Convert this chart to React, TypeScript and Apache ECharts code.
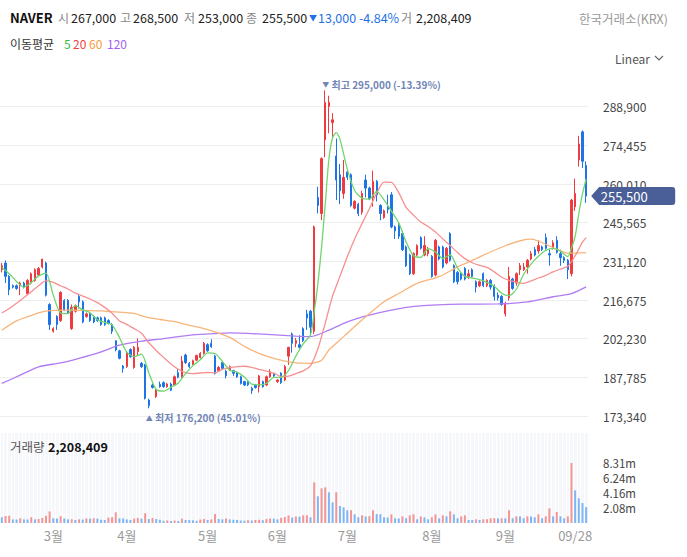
import React, { useEffect, useRef } from 'react';
import * as echarts from 'echarts';

const FONT = "'Noto Sans CJK KR', 'Noto Sans', sans-serif";

// trading days (month, days)
const tradingDays: [number, number[]][] = [
  [2, [11, 12, 13, 14, 17, 18, 19, 20, 21, 24, 25, 26, 27, 28]],
  [3, [4, 5, 6, 7, 10, 11, 12, 13, 14, 17, 18, 19, 20, 21, 24, 25, 26, 27, 28, 31]],
  [4, [1, 2, 3, 4, 7, 8, 9, 10, 11, 14, 15, 16, 17, 18, 21, 22, 23, 24, 25, 28, 29, 30]],
  [5, [2, 7, 8, 9, 12, 13, 14, 15, 16, 19, 20, 21, 22, 23, 26, 27, 28, 29, 30]],
  [6, [2, 4, 5, 9, 10, 11, 12, 13, 16, 17, 18, 19, 20, 23, 24, 25, 26, 27, 30]],
  [7, [1, 2, 3, 4, 7, 8, 9, 10, 11, 14, 15, 16, 17, 18, 21, 22, 23, 24, 25, 28, 29, 30, 31]],
  [8, [1, 4, 5, 6, 7, 8, 11, 12, 13, 14, 18, 19, 20, 21, 22, 25, 26, 27, 28, 29]],
  [9, [1, 2, 3, 4, 5, 8, 9, 10, 11, 12, 15, 16, 17, 18, 19, 22, 23, 24, 25, 26, 29, 30]],
  [10, [1]],
];

const xTickLabels: [number, string][] = [
  [14, '3월'], [34, '4월'], [56, '5월'], [75, '6월'], [94, '7월'], [117, '8월'], [137, '9월'], [156, '09/28'],
];

// [open, high, low, close]
const candles: [number, number, number, number][] = [
  [228000, 230500, 227000, 229500], [230500, 231500, 223000, 225500], [225500, 226000, 218500, 220500], [222000, 222500, 221000, 221500],
  [222000, 222500, 220500, 221000], [222000, 223500, 218500, 223000], [223000, 223500, 221000, 221500], [219000, 224500, 218500, 224000],
  [223000, 227000, 222500, 226500], [224000, 228500, 223500, 228000], [226000, 229000, 225500, 228500], [229000, 232000, 228500, 232000],
  [230500, 231000, 218000, 218500], [215000, 215500, 205500, 207500], [205000, 206500, 204500, 206000], [210500, 211000, 205500, 207500],
  [209000, 220000, 208500, 219500], [216500, 217000, 212500, 213000], [216500, 217000, 211500, 212000], [206000, 215000, 205500, 214000],
  [212500, 215000, 212000, 214500], [218000, 218500, 213500, 216000], [216000, 216500, 208000, 208500], [210500, 212000, 210000, 211500],
  [211500, 212000, 208500, 209000], [210500, 211000, 208000, 208500], [210000, 210500, 208500, 209000], [210000, 210500, 207000, 207500],
  [210000, 210500, 207000, 207500], [209000, 209500, 207500, 208000], [207500, 208000, 204000, 205000], [201500, 201500, 197500, 198000],
  [197700, 198100, 194500, 194900], [192000, 192400, 189500, 191100], [191800, 197400, 191300, 197000], [198200, 198600, 195100, 195500],
  [191500, 199500, 191000, 199000], [197400, 202300, 196100, 199000], [193000, 193500, 191300, 191800], [192400, 192800, 179500, 179900],
  [179300, 179800, 176200, 177200], [184900, 185500, 183600, 184000], [180600, 183800, 180100, 183300], [185200, 186200, 183900, 184300],
  [185800, 186300, 183900, 184300], [184300, 185700, 183900, 185300], [185300, 185800, 182600, 183000], [184900, 188500, 184500, 188000],
  [189500, 190800, 187400, 187800], [188000, 195700, 187600, 193900], [196100, 196600, 192800, 193300], [193000, 193500, 191300, 191800],
  [192800, 194400, 192300, 194000], [194200, 196300, 193900, 195900], [195200, 197200, 194800, 196700], [196700, 201000, 196300, 200500],
  [200000, 200500, 197300, 197700], [200500, 202000, 198800, 199200], [195700, 196200, 188800, 189300], [190300, 192000, 189800, 191500],
  [193300, 193700, 190700, 191100], [190100, 190600, 187400, 188400], [190500, 192200, 190100, 191800], [190300, 190600, 188300, 189300],
  [189500, 189900, 187600, 188000], [188000, 188400, 185100, 185500], [186200, 186500, 184500, 184900], [185900, 186300, 184500, 185000],
  [183700, 184300, 181600, 182800], [184900, 185300, 183600, 184000], [184300, 188700, 182100, 188300], [186200, 186600, 183900, 184300],
  [184900, 188500, 184500, 188000], [188000, 190800, 187600, 189900], [189000, 189400, 187900, 188300], [186200, 187200, 185700, 186800],
  [189300, 189700, 185300, 185800], [186800, 192400, 186300, 191800], [195700, 199200, 192400, 199000], [204000, 204500, 197000, 200500],
  [200500, 202500, 199000, 201500], [200000, 203500, 198500, 199000], [206000, 206500, 201000, 201500], [211500, 213000, 205500, 210000],
  [212500, 213000, 203500, 206500], [205000, 244500, 204000, 244000], [255000, 259000, 249000, 252000], [249000, 270000, 246500, 269500],
  [276500, 295000, 270000, 290500], [289000, 293000, 279000, 290500], [283000, 286500, 277500, 284000], [270500, 277000, 254000, 261500],
  [263500, 267500, 252500, 257500], [256500, 269000, 254500, 262500], [264500, 265500, 261500, 262500], [263500, 264000, 251500, 252000],
  [251000, 254000, 250500, 253500], [252500, 253000, 248000, 249000], [249500, 257500, 248500, 256500], [261500, 263500, 255000, 258500],
  [258500, 259000, 254000, 254500], [255000, 265000, 251500, 261000], [261000, 261500, 253500, 256000], [252000, 252500, 246500, 249000],
  [247500, 250500, 247000, 250000], [251500, 256000, 249000, 250500], [256000, 257000, 243500, 244000], [244000, 244500, 239500, 242500],
  [245000, 245500, 239500, 240500], [241500, 242500, 235000, 235500], [236500, 237000, 229000, 229500], [233500, 234000, 226000, 226500],
  [226500, 234500, 226000, 234000], [233500, 237500, 233000, 237000], [240000, 240500, 235500, 236000], [233500, 240500, 233000, 237000],
  [234000, 236500, 233000, 235500], [233000, 233500, 225000, 225500], [226000, 239500, 225500, 239000], [236500, 237000, 231500, 232000],
  [236500, 237000, 228500, 229000], [230500, 236500, 230000, 236000], [241500, 242000, 231000, 231500], [229500, 230000, 223000, 223500],
  [227000, 227500, 222500, 223500], [226500, 227000, 224000, 224500], [228500, 229000, 224000, 224500], [225500, 228000, 224500, 226500],
  [228000, 228500, 225000, 225500], [223500, 224000, 219500, 221500], [222000, 224000, 221500, 223500], [226500, 227000, 221500, 222000],
  [222000, 224500, 221500, 224000], [224000, 224500, 220500, 221500], [222000, 222500, 216500, 218000], [218500, 219500, 216500, 217500],
  [218000, 218500, 214500, 215000], [211500, 216000, 210500, 215500], [217500, 229000, 216500, 225500], [224500, 225000, 220500, 221000],
  [223000, 227000, 222000, 226500], [228000, 230500, 226000, 229500], [228000, 230500, 227500, 229000], [229000, 232000, 226500, 231500],
  [232000, 235000, 231500, 234000], [235500, 236500, 233000, 233500], [235000, 239000, 234000, 237000], [236500, 237000, 235000, 235500],
  [240000, 241500, 235500, 236000], [234000, 235500, 229500, 233500], [236000, 239000, 235500, 238000], [239000, 240500, 234000, 234500],
  [234000, 235500, 229500, 232500], [232500, 233000, 230500, 231500], [231500, 232000, 224500, 228000], [226500, 254500, 225500, 254000],
  [251500, 262000, 250000, 256500], [269000, 278000, 266500, 275000], [279500, 280000, 266000, 268500], [267000, 268500, 253000, 255500],
];

const volumes: number[] = [
  780000, 970000, 1000000, 500000, 480000, 650000, 500000, 480000, 800000, 500000,
  550000, 700000, 1000000, 1600000, 650000, 620000, 950000, 620000, 500000, 520000,
  420000, 500000, 480000, 620000, 600000, 650000, 600000, 450000, 420000, 750000,
  800000, 1480000, 650000, 620000, 500000, 420000, 600000, 700000, 600000, 1350000,
  550000, 700000, 550000, 450000, 300000, 350000, 280000, 330000, 280000, 600000,
  420000, 400000, 380000, 300000, 480000, 550000, 420000, 500000, 1250000, 550000,
  500000, 620000, 500000, 450000, 420000, 350000, 320000, 380000, 350000, 400000,
  450000, 380000, 550000, 620000, 600000, 500000, 720000, 850000, 1050000, 750000,
  900000, 880000, 1060000, 1070000, 790000, 5630000, 3700000, 4800000, 4940000, 4250000,
  2860000, 4260000, 2360000, 2170000, 1760000, 1780000, 1200000, 790000, 1060000, 920000,
  940000, 1760000, 1250000, 1220000, 790000, 770000, 1200000, 650000, 630000, 920000,
  650000, 1060000, 1200000, 510000, 920000, 790000, 510000, 790000, 1200000, 650000,
  1060000, 920000, 1620000, 1200000, 650000, 920000, 1060000, 420000, 410000, 510000,
  420000, 510000, 520000, 650000, 660000, 640000, 650000, 640000, 1760000, 650000,
  920000, 910000, 650000, 920000, 910000, 790000, 1200000, 650000, 920000, 2030000,
  920000, 1520000, 920000, 650000, 920000, 8314000, 4530000, 3420000, 2770000, 2208409,
];

// moving average lines: [candle index, value]
const ma5: [number, number][] = [
  [0, 228800], [2, 226500], [4, 223600], [6, 221500], [8, 223200], [10, 225700], [12, 226700], [14, 218500], [16, 211800], [18, 211600],
  [20, 214600], [22, 213000], [24, 211900], [26, 209300], [28, 208300], [30, 207400], [32, 202680], [34, 197200], [36, 195500], [38, 196460],
  [40, 189380], [42, 183240], [44, 182620], [46, 184040], [48, 185680], [50, 189200], [52, 192160], [54, 194340], [56, 196960], [58, 196680],
  [60, 193760], [62, 190420], [64, 189720], [66, 187900], [68, 185240], [70, 185000], [72, 185480], [74, 187760], [76, 187760], [78, 190340],
  [80, 195720], [82, 200300], [84, 203700], [85, 212200], [86, 222800], [87, 236400], [88, 252500], [89, 269300], [90, 277300], [91, 279200],
  [92, 276800], [94, 265600], [96, 257600], [98, 254700], [100, 254400], [102, 257300], [104, 254100], [106, 249900], [108, 245500], [110, 238400],
  [112, 233200], [114, 232600], [116, 235900], [118, 234600], [120, 232200], [122, 233500], [124, 228700], [126, 225500], [128, 224900], [130, 224300],
  [132, 223300], [134, 221800], [136, 219200], [138, 218300], [140, 220700], [142, 226300], [144, 230100], [146, 233000], [148, 235200], [150, 236000],
  [152, 234900], [154, 232900], [155, 236100], [156, 240500], [157, 249000], [158, 256400], [159, 261900],
];
const ma20: [number, number][] = [
  [0, 211800], [2, 213500], [4, 215500], [6, 217500], [8, 219800], [10, 222000], [12, 223800], [14, 223300], [16, 222000], [18, 220800],
  [20, 219225], [22, 218150], [24, 217050], [26, 215700], [28, 213925], [30, 211750], [32, 208870], [34, 207600], [36, 205975], [38, 204265],
  [40, 200695], [42, 197835], [44, 195240], [46, 192780], [48, 190820], [50, 189530], [52, 189175], [54, 189400], [56, 189585], [58, 189470],
  [60, 190745], [62, 191390], [64, 191825], [66, 191930], [68, 191530], [70, 190785], [72, 190110], [74, 189390], [76, 188110], [78, 188225],
  [80, 189195], [82, 190210], [84, 192170], [86, 198450], [88, 208060], [90, 218170], [92, 225505], [94, 232845], [96, 239490], [98, 245225],
  [100, 250775], [102, 256600], [104, 260725], [106, 260650], [108, 256800], [110, 251325], [112, 248400], [114, 245800], [116, 244150], [118, 242100],
  [120, 239500], [122, 237025], [124, 234425], [126, 232150], [128, 230600], [130, 229600], [132, 228875], [134, 227200], [136, 225200], [138, 224025],
  [140, 223350], [142, 222900], [144, 223825], [146, 224900], [148, 225875], [150, 227200], [152, 228250], [154, 229250], [156, 233150], [158, 238275],
  [159, 240000],
];
const ma60: [number, number][] = [
  [0, 205400], [4, 208900], [9, 211400], [12, 212500], [18, 212900], [22, 212800], [27, 212600], [30, 212300], [36, 211700], [39, 210400],
  [43, 209400], [47, 208600], [50, 207600], [54, 206400], [58, 204800], [62, 202700], [67, 198600], [72, 195700], [78, 193600], [84, 193000],
  [87, 194200], [89, 198000], [93, 203000], [98, 209200], [104, 216000], [108, 219100], [113, 222900], [119, 225400], [125, 229700], [144, 239400],
  [150, 236300], [154, 234200], [159, 234400],
];
const ma120: [number, number][] = [
  [0, 185500], [5, 188600], [10, 191700], [16, 193200], [21, 194900], [27, 197300], [32, 199800], [38, 201300], [43, 202100], [48, 203000],
  [54, 203800], [62, 204400], [71, 203900], [80, 203200], [84, 203000], [89, 205400], [94, 208500], [100, 211000], [106, 212900], [113, 214400],
  [125, 215150], [135, 215200], [143, 216000], [150, 217900], [155, 219100], [159, 221600],
];

const UP = '#ef3a3f';
const DOWN = '#1c74e6';
const VOL_UP = '#f29696';
const VOL_DOWN = '#80b6f4';

const comma = (v: number) => String(Math.round(v)).replace(/\B(?=(\d{3})+(?!\d))/g, ',');

const txt = (x: number, y: number, text: string, color: string, size: number, weight: string = 'normal', align: string = 'left') => ({
  type: 'text', x, y, z: 100, zlevel: 0, silent: true,
  style: { text, fill: color, fontSize: size, fontWeight: weight, fontFamily: FONT, verticalAlign: 'middle', align },
});

export default function App() {
  const ref = useRef<HTMLDivElement>(null);
  useEffect(() => {
    if (!ref.current) return;
    const chart = echarts.init(ref.current, undefined, { renderer: 'svg' });
    const categories = tradingDays.flatMap(([m, ds]) => ds.map((d) => `${String(m).padStart(2, '0')}/${String(d).padStart(2, '0')}`));
    const tickMap: Record<number, string> = {};
    xTickLabels.forEach(([i, l]) => { tickMap[i] = l; });
    const lastIdx = candles.length - 1;
    const last = candles[lastIdx];
    const volData = volumes.map((v, i) => ({
      value: v,
      itemStyle: { color: i > 0 && v > volumes[i - 1] ? VOL_UP : VOL_DOWN },
    }));
    const hi = Math.max(...candles.map((c) => c[1]));
    const hiIdx = candles.findIndex((c) => c[1] === hi);
    const lo = Math.min(...candles.map((c) => c[2]));
    const loIdx = candles.findIndex((c) => c[2] === lo);
    const maLine = (name: string, data: [number, number][], color: string) => ({
      name, type: 'line', xAxisIndex: 0, yAxisIndex: 0, data, showSymbol: false, symbol: 'none', smooth: 0.25,
      lineStyle: { color, width: 1.3 }, silent: true, z: 3,
    });
    const option: any = {
      animation: false,
      textStyle: { fontFamily: FONT },
      grid: [
        { left: 0, width: 588, top: 77, height: 339 },
        { left: 0, width: 588, top: 433, height: 90, show: true, backgroundColor: '#f6f7fb', borderWidth: 0 },
      ],
      xAxis: [
        {
          type: 'category', gridIndex: 0, data: categories, boundaryGap: true,
          axisLine: { show: false }, axisTick: { show: false }, axisLabel: { show: false }, splitLine: { show: false },
        },
        {
          type: 'category', gridIndex: 1, data: categories, boundaryGap: true,
          axisLine: { show: false }, axisTick: { show: false },
          axisLabel: {
            interval: (idx: number) => tickMap[idx] !== undefined,
            formatter: (_v: string, idx: number) => tickMap[idx] || '',
            color: '#9a9a9a', fontSize: 13, margin: 6, fontFamily: FONT,
          },
          splitLine: { show: true, interval: 0, lineStyle: { color: '#ffffff', width: 1 } },
        },
      ],
      yAxis: [
        {
          type: 'value', gridIndex: 0, position: 'right', min: 173340, max: 300000, interval: 14445,
          axisLine: { show: false }, axisTick: { show: false },
          axisLabel: { formatter: (v: number) => comma(v), color: '#444', fontSize: 12, margin: 15, showMaxLabel: false, fontFamily: FONT },
          splitLine: { show: true, showMaxLine: false, lineStyle: { color: '#eeeeee', width: 1 } },
        },
        {
          type: 'value', gridIndex: 1, position: 'right', min: 0, max: 12471000, interval: 2078500,
          axisLine: { show: false }, axisTick: { show: false }, splitLine: { show: false },
          axisLabel: {
            formatter: (v: number) => (v > 0 && v <= 8314001 ? (Math.round(v / 1e4) / 100).toFixed(2) + 'm' : ''),
            color: '#444', fontSize: 11.5, margin: 15, fontFamily: FONT,
          },
        },
      ],
      series: [
        {
          name: 'NAVER', type: 'candlestick', xAxisIndex: 0, yAxisIndex: 0,
          data: candles.map(([o, h, l, c]) => [o, c, l, h]),
          barWidth: '50%',
          itemStyle: { color: UP, color0: DOWN, borderColor: UP, borderColor0: DOWN, borderWidth: 1 },
          z: 2,
          markPoint: {
            silent: true,
            animation: false,
            data: [
              {
                coord: [hiIdx, hi], symbol: 'rect', symbolSize: 1, itemStyle: { color: 'rgba(0,0,0,0)' },
                label: {
                  show: true, position: 'inside', align: 'left', offset: [-3, -6],
                  formatter: `{a|▼} 최고 ${comma(hi)} (${(((last[3] - hi) / hi) * 100).toFixed(2)}%)`,
                  color: '#7285b6', fontSize: 10, fontWeight: 'bold', fontFamily: FONT,
                  rich: { a: { fontSize: 7, color: '#7285b6', fontFamily: FONT } },
                },
              },
              {
                coord: [loIdx, lo], symbol: 'rect', symbolSize: 1, itemStyle: { color: 'rgba(0,0,0,0)' },
                label: {
                  show: true, position: 'inside', align: 'left', offset: [-3, 9.5],
                  formatter: `{a|▲} 최저 ${comma(lo)} (${(((last[3] - lo) / lo) * 100).toFixed(2)}%)`,
                  color: '#7285b6', fontSize: 10, fontWeight: 'bold', fontFamily: FONT,
                  rich: { a: { fontSize: 7, color: '#7285b6', fontFamily: FONT } },
                },
              },
              {
                coord: [lastIdx, last[3]],
                symbol: 'path://M0,9L8,0H81Q84,0,84,3V15Q84,18,81,18H8Z',
                symbolSize: [84, 18], symbolOffset: [47, 0], symbolKeepAspect: false,
                itemStyle: { color: '#4a5e98' },
                label: {
                  show: true, position: 'inside', offset: [-9, 0], formatter: comma(last[3]),
                  color: '#ffffff', fontSize: 13, fontFamily: FONT,
                },
              },
            ],
          },
        },
        maLine('MA120', ma120, '#b07cf3'),
        maLine('MA60', ma60, '#f9b47a'),
        maLine('MA20', ma20, '#f79090'),
        maLine('MA5', ma5, '#6fd66f'),
        {
          name: 'Volume', type: 'bar', xAxisIndex: 1, yAxisIndex: 1, data: volData, barWidth: '55%', silent: true,
        },
      ],
      graphic: [
        txt(10, 17, 'NAVER', '#111', 13, 'bold'),
        txt(58, 17, '시', '#888', 12),
        txt(71, 17, '267,000', '#222', 12.5),
        txt(120, 17, '고', '#888', 12),
        txt(133, 17, '268,500', '#222', 12.5),
        txt(184, 17, '저', '#888', 12),
        txt(198, 17, '253,000', '#222', 12.5),
        txt(246, 17, '종', '#888', 12),
        txt(262, 17, '255,500', '#222', 12.5),
        txt(309, 17, '▼', '#1f72e6', 8),
        txt(318, 17, '13,000 -4.84%', '#1f72e6', 12.5),
        txt(401, 17, '거', '#888', 12),
        txt(416, 17, '2,208,409', '#222', 12.5),
        txt(668, 18, '한국거래소(KRX)', '#9a9a9a', 12.5, 'normal', 'right'),
        txt(10, 43, '이동평균', '#333', 12),
        txt(64, 43, '5', '#3dbb3d', 12),
        txt(73, 43, '20', '#ef4141', 12),
        txt(89, 43, '60', '#f59a3c', 12),
        txt(107, 43, '120', '#a35ff0', 12),
        txt(615, 58, 'Linear', '#555', 12),
        { type: 'polyline', z: 100, silent: true, shape: { points: [[655, 56], [659, 60], [663, 56]] }, style: { stroke: '#666', fill: 'none', lineWidth: 1.2 } },
        txt(10, 446, '거래량', '#555', 12.5),
        txt(48, 446, '2,208,409', '#111', 12.5, 'bold'),
      ],
    };
    chart.setOption(option);
    return () => chart.dispose();
  }, []);
  return <div ref={ref} style={{ position: 'fixed', left: 0, top: 0, width: 687, height: 557, background: '#fff' }} />;
}
